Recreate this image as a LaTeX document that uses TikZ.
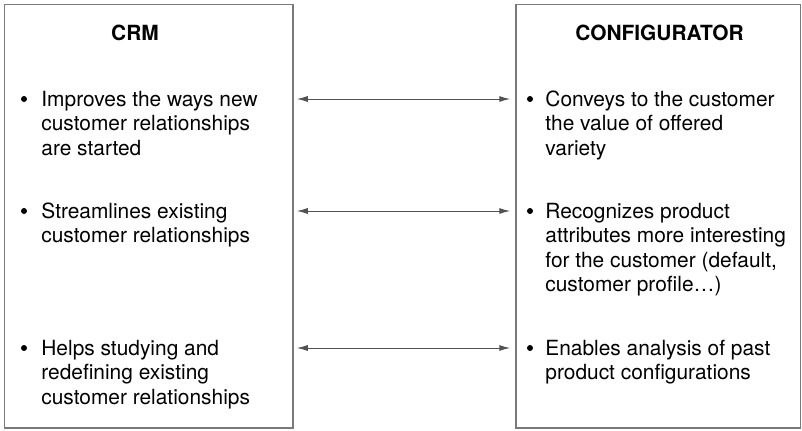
\documentclass[tikz,border=0pt]{standalone}
\usepackage{fontspec}
\setmainfont{TeX Gyre Heros}
\usetikzlibrary{arrows.meta,positioning}

\begin{document}
\begin{tikzpicture}[
  x=0.5pt, y=-0.5pt,
  font=\fontsize{10.45pt}{12.15pt}\selectfont,
  panel/.style={rectangle, draw=black!52, line width=0.75pt, minimum width=#1, minimum height=211.75pt, inner sep=0pt},
  title/.style={font=\fontsize{10.45pt}{12.15pt}\selectfont\bfseries, anchor=base, inner sep=0pt},
  dot/.style={circle, fill=black, minimum size=3pt, inner sep=0pt},
  item/.style={anchor=base west, align=left, inner sep=0pt},
  arr/.style={{Latex[length=5.5pt,width=3pt]}-{Latex[length=5.5pt,width=3pt]}, draw=black!68, line width=0.5pt},
]
\useasboundingbox (0,0) rectangle (802,430);

% ---------------- CRM ----------------
\node[panel=144.25pt] (crm) at (148.75,216.25) {};
\node[title] (crmt) at (135,40) {CRM};
\node[dot] (l1) at (24,99) {};
\node[item] (lt1) at (41,155.1) {Improves the ways new\\customer relationships\\are started};
\node[dot] (l2) at (24,211) {};
\node[item] (lt2) at (41,242.8) {Streamlines existing\\customer relationships};
\node[dot] (l3) at (24,348) {};
\node[item] (lt3) at (41,404.1) {Helps studying and\\redefining existing\\customer relationships};

% ---------------- Configurator ----------------
\node[panel=142.25pt] (cfg) at (658.25,216.25) {};
\node[title] (cfgt) at (659.5,40) {CONFIGURATOR};
\node[dot] (r1) at (530,99) {};
\node[item] (rt1) at (545,155.1) {Conveys to the customer\\the value of offered\\variety};
\node[dot] (r2) at (530,211) {};
\node[item] (rt2) at (545,291.4) {Recognizes product\\attributes more interesting\\for the customer (default,\\customer profile…)};
\node[dot] (r3) at (530,348) {};
\node[item] (rt3) at (545,379.8) {Enables analysis of past\\product configurations};

% links
\draw[arr] ([xshift=1.5pt]crm.east |- l1) -- ([xshift=-2.5pt]cfg.west |- r1);
\draw[arr] ([xshift=1.5pt]crm.east |- l2) -- ([xshift=-2.5pt]cfg.west |- r2);
\draw[arr] ([xshift=1.5pt]crm.east |- l3) -- ([xshift=-2.5pt]cfg.west |- r3);
\end{tikzpicture}
\end{document}
